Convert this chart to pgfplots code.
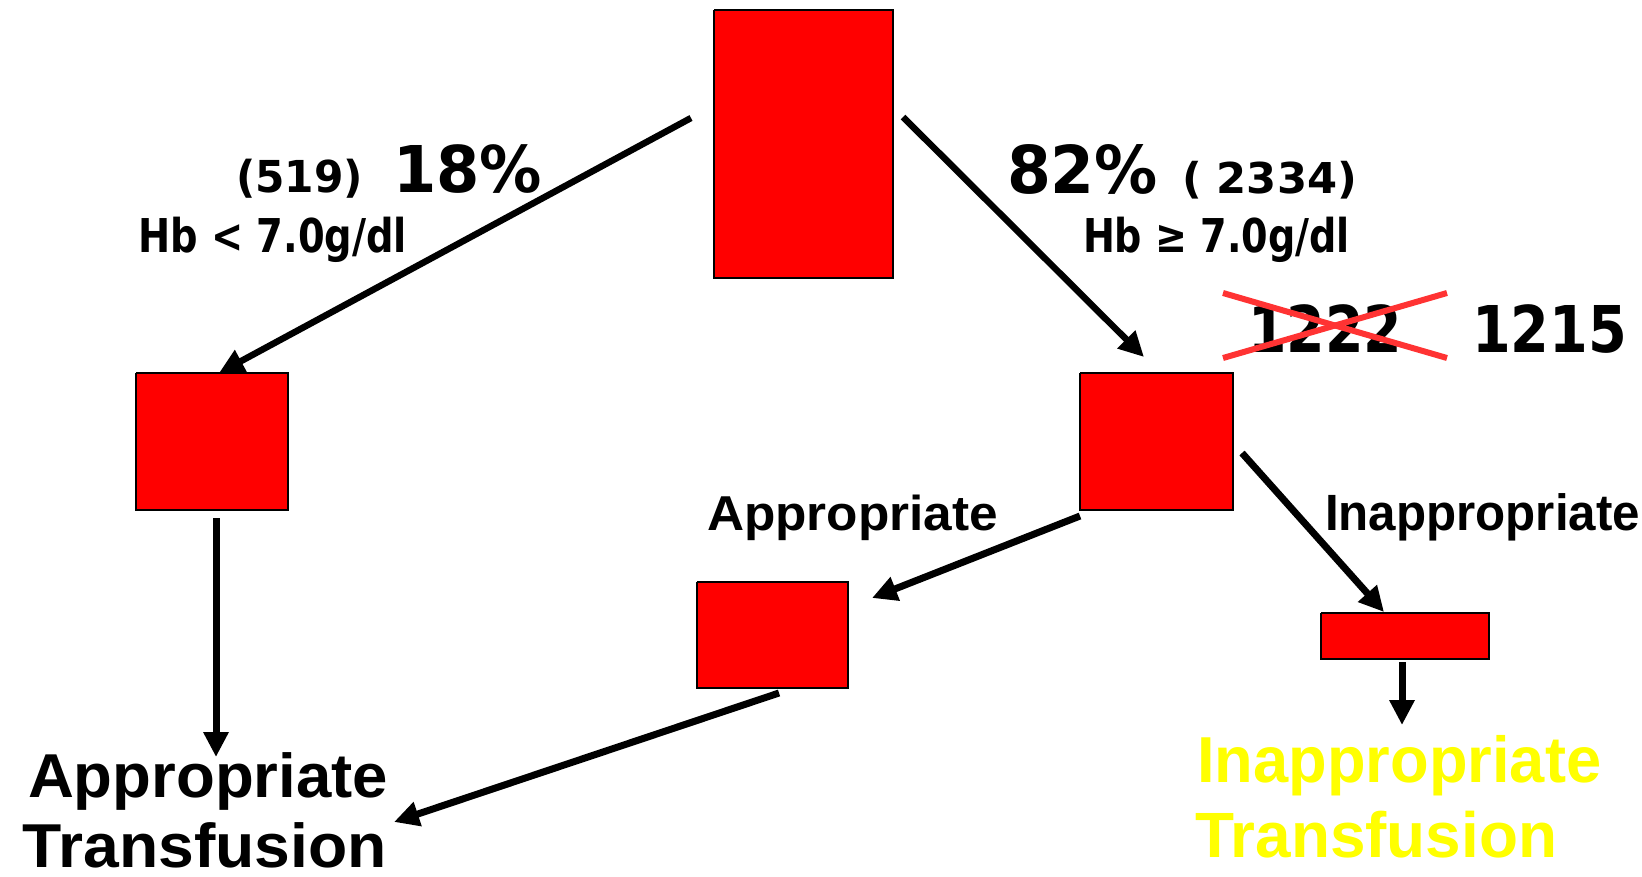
\documentclass[border=0pt]{standalone}
\usepackage{graphicx}
\usepackage{fontspec}
\usepackage{pgfplots}
\pgfplotsset{compat=1.18}
\usetikzlibrary{arrows.meta}
\newfontfamily\dv{DejaVu Sans}
\newfontfamily\lib{Liberation Sans}
\definecolor{boxred}{RGB}{255,0,0}
\definecolor{xred}{RGB}{255,51,51}
\definecolor{ylw}{RGB}{255,255,0}
% T{x}{baseline}{width}{size}{font}{text}
\newcommand{\T}[6]{\node[anchor=base west,inner sep=0pt,outer sep=0pt] at (axis cs:#1,#2) {\resizebox{#3pt}{\height}{\fontsize{#4}{#4}\selectfont#5\bfseries #6}};}
\begin{document}
\begin{tikzpicture}
\begin{axis}[
  hide axis, x=1pt, y=1pt, y dir=reverse,
  xmin=0, xmax=1642, ymin=0, ymax=876,
  clip=false, scale only axis,
]
% boxes
\addplot[fill=boxred, draw=black, line width=2pt, line join=miter] coordinates {(714,10) (893,10) (893,278) (714,278) (714,10)};
\addplot[fill=boxred, draw=black, line width=2pt, line join=miter] coordinates {(136,373) (288,373) (288,510) (136,510) (136,373)};
\addplot[fill=boxred, draw=black, line width=2pt, line join=miter] coordinates {(1080,373) (1233,373) (1233,510) (1080,510) (1080,373)};
\addplot[fill=boxred, draw=black, line width=2pt, line join=miter] coordinates {(697,582) (848,582) (848,688) (697,688) (697,582)};
\addplot[fill=boxred, draw=black, line width=2pt, line join=miter] coordinates {(1321,613) (1489,613) (1489,659) (1321,659) (1321,613)};
% arrows
\addplot[black, line width=6.5pt, -{Triangle[length=25pt,width=24pt]}] coordinates {(691,118) (219,373)};
\addplot[black, line width=6.5pt, -{Triangle[length=25pt,width=24pt]}] coordinates {(903,117) (1144,357)};
\addplot[black, line width=7pt, -{Triangle[length=25pt,width=24pt]}] coordinates {(216,518) (216,757)};
\addplot[black, line width=7pt, -{Triangle[length=25pt,width=24pt]}] coordinates {(1080,516) (872,598)};
\addplot[black, line width=7pt, -{Triangle[length=25pt,width=24pt]}] coordinates {(1242,453) (1384,612)};
\addplot[black, line width=7pt, -{Triangle[length=25pt,width=24pt]}] coordinates {(779,693) (394,822)};
\addplot[black, line width=7pt, -{Triangle[length=25pt,width=24pt]}] coordinates {(1402,662) (1402,725)};
% texts
\T{236}{192}{127}{44}{\dv}{(519)}
\T{393}{192}{149}{64.5}{\dv}{18\%}
\T{138}{252}{269}{46.6}{\dv}{Hb < 7.0g/dl}
\T{1007}{193}{151}{66}{\dv}{82\%}
\T{1182}{193}{175}{42.5}{\dv}{( 2334)}
\T{1083}{252}{267}{46.6}{\dv}{Hb ≥ 7.0g/dl}
\T{1248}{352}{154}{64.5}{\dv}{1222}
\T{1472}{352}{155}{64.5}{\dv}{1215}
\addplot[xred, line width=6pt] coordinates {(1223,293) (1447,358)};
\addplot[xred, line width=6pt] coordinates {(1223,358) (1447,293)};
\T{707}{530}{291}{49}{\lib}{Appropriate}
\T{1325}{530}{315}{51}{\lib}{Inappropriate}
\T{28}{797}{360}{62}{\lib}{Appropriate}
\T{23}{867}{364}{62}{\lib}{Transfusion}
\node[anchor=base west,inner sep=0pt] at (axis cs:1197,782) {\resizebox{404pt}{\height}{\fontsize{65}{65}\selectfont\lib\bfseries\color{ylw}Inappropriate}};
\node[anchor=base west,inner sep=0pt] at (axis cs:1195,857) {\resizebox{362pt}{\height}{\fontsize{64}{64}\selectfont\lib\bfseries\color{ylw}Transfusion}};
\end{axis}
\pgfresetboundingbox
\path (current axis.south west) rectangle (current axis.north east);
\end{tikzpicture}
\end{document}
